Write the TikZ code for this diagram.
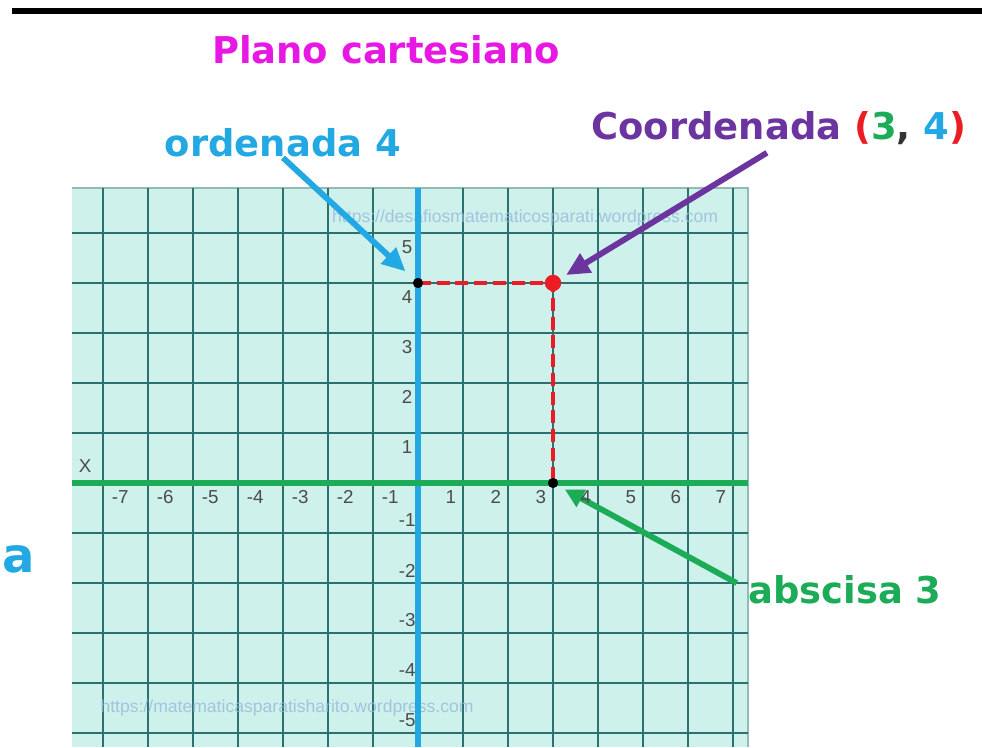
\documentclass[tikz,border=0pt]{standalone}
\usepackage{fontspec}
\setmainfont{Liberation Sans}
\newfontfamily\titlefont{DejaVu Sans}
\usepackage{tikz}
\usetikzlibrary{arrows.meta}

\definecolor{rosa}{RGB}{232,24,228}
\definecolor{celeste}{RGB}{34,168,226}
\definecolor{morado}{RGB}{108,52,158}
\definecolor{verde}{RGB}{28,172,88}
\definecolor{rojo}{RGB}{236,28,36}
\definecolor{papel}{RGB}{206,241,235}
\definecolor{rejilla}{RGB}{44,112,112}
\definecolor{marca}{RGB}{150,186,222}

\begin{document}
\begin{tikzpicture}[x=1.35cm,y=1.5cm,
        titulo/.style={font=\titlefont\bfseries\fontsize{31.5}{38}\selectfont,inner sep=0pt},
        numero/.style={font=\fontsize{16}{19}\selectfont,text=black!70,inner sep=0pt},
        flecha/.style={line width=5pt,-{Triangle[length=20pt,width=18pt]}},
        punto/.style={circle,fill=black,inner sep=0pt,minimum size=8.5pt}]
        \useasboundingbox (-9.289,-5.28) rectangle (12.533,9.66);
        %barra de arriba
        \draw[line width=5pt] (-9.02,9.44) -- (12.533,9.44);
        %papel cuadriculado
        \fill[papel] (-7.689,-5.28) rectangle (7.333,5.9);
        \draw[rejilla!50,line width=1pt] (-7.689,5.9) -- (7.333,5.9) -- (7.333,-5.28);
        \foreach \x in {-7,...,7}
                \draw[rejilla,line width=1.3pt] (\x,-5.28) -- (\x,5.9);
        \foreach \y in {-5,...,5}
                \draw[rejilla,line width=1.3pt] (-7.689,\y) -- (7.333,\y);
        %marcas de agua
        \node[font=\fontsize{15}{17}\selectfont,text=marca,opacity=.8] (marca1) at (2.38,5.3) {https://desafiosmatematicosparati.wordpress.com};
        \node[font=\fontsize{15}{17}\selectfont,text=marca,opacity=.8] (marca2) at (-2.91,-4.5) {https://matematicasparatisharito.wordpress.com};
        %ejes
        \draw[celeste,line width=5.5pt] (0,-5.28) -- (0,5.9);
        \draw[verde,line width=5.5pt] (-7.689,0) -- (7.333,0);
        %punto (3,4)
        \node[punto] (py) at (0,4) {};
        \node[punto] (px) at (3,0) {};
        \draw[rojo,line width=3.4pt,dash pattern=on 11pt off 5pt] (py.center) -- (3,4) -- (px.center);
        \node[punto,fill=rojo,minimum size=14pt] (pr) at (3,4) {};
        \node[punto] at (py) {};
        \node[punto] at (px) {};
        %textos
        \node[titulo,text=rosa,anchor=base] (plano) at (-0.711,8.38) {Plano cartesiano};
        \node[titulo,text=celeste,anchor=base] (ordenada) at (-3.0,6.52) {ordenada 4};
        \node[titulo,text=morado,anchor=base] (coord) at (8.02,6.86)
                {Coordenada \textcolor{rojo}{(}\textcolor{verde}{3}\textcolor{black!80}{,} \textcolor{celeste}{4}\textcolor{rojo}{)}};
        \node[titulo,text=verde,anchor=base west] (abscisa) at (7.333,-2.4) {abscisa 3};
        \node[titulo,text=celeste,anchor=base east,font=\titlefont\bfseries\fontsize{41}{48}\selectfont] (frag) at (-8.5,-1.78) {a};
        %flechas
        \draw[flecha,celeste,shorten >=14.5pt] (ordenada.south) -- (py.center);
        \draw[flecha,morado,shorten <=12pt,shorten >=13pt] (coord.south) -- (pr.center);
        \draw[flecha,verde,shorten <=11pt,shorten >=11.5pt,-{Triangle[length=16pt,width=16pt]}] (abscisa.west) -- (px.center);
        %numeros del eje x
        \foreach \x [count=\i] in {-7,...,-1}
                \node[numero] (xa\i) at (\x+0.38,-0.28) {-\the\numexpr-\x\relax};
        \foreach \x in {1,...,7}
                \node[numero] (xb\x) at (\x-0.27,-0.28) {\x};
        %numeros del eje y
        \foreach \y in {1,...,5}
                \node[numero] (yb\y) at (-0.24,\y-0.28) {\y};
        \foreach \y [count=\i] in {-1,...,-5}
                \node[numero] (ya\i) at (-0.24,\y+0.25) {-\the\numexpr-\y\relax};
        \node[numero] (ejex) at (-7.4,0.34) {X};
\end{tikzpicture}
\end{document}
